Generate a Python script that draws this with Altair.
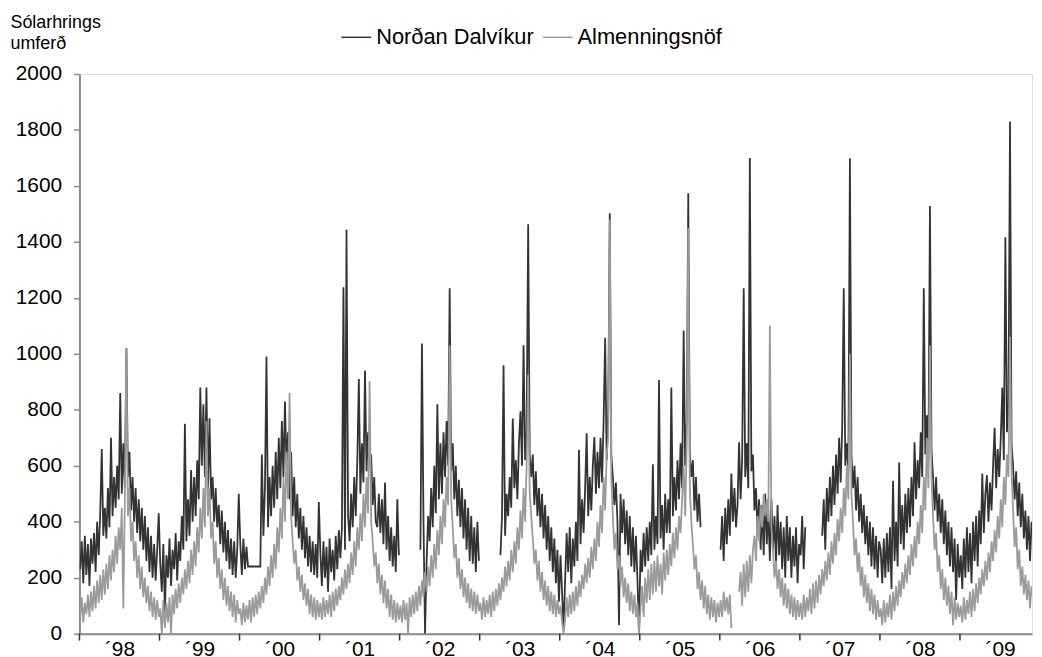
import altair as alt
import pandas as pd

YEARS = list(range(1998, 2010))
SERIES = ["Norðan Dalvíkur", "Almenningsnöf"]
COLORS = ["#333333", "#9b9b9b"]
Y_TICKS = list(range(0, 2001, 200))
X_LABEL_POS = [y + 0.5 for y in YEARS]
N = None

# weekly readings (52 per year), Norðan Dalvíkur
nd_1998 = [230, 330, 180, 350, 210, 320, 170, 340, 250, 360, 220, 400, 280, 430, 660, 350, 450, 340, 520, 380, 700, 420, 560, 450, 600, 480, 860, 500, 680, 520, 1020, 560, 650, 440, 560, 400, 520, 360, 480, 330, 450, 300, 420, 260, 380, 220, 350, 200, 320, 190, 300, 430]
nd_1999 = [250, 150, 320, 80, 280, 200, 340, 170, 300, 230, 360, 190, 330, 260, 420, 300, 750, 330, 480, 350, 585, 400, 560, 420, 620, 480, 880, 600, 820, 560, 880, 520, 770, 480, 560, 400, 520, 380, 460, 320, 440, 290, 400, 260, 370, 230, 340, 210, 330, 200, 300, 500]
nd_2000 = [320, 210, 340, 230, 310, 240, 240, 240, 240, 240, 240, 240, 240, 240, 640, 350, 520, 990, 380, 560, 420, 600, 450, 650, 480, 700, 520, 760, 560, 830, 600, 720, 480, 650, 420, 560, 380, 500, 340, 450, 300, 420, 270, 380, 240, 350, 220, 330, 210, 320, 200, 470]
nd_2001 = [290, 170, 330, 200, 310, 150, 340, 220, 300, 190, 350, 230, 370, 270, 380, 1238, 300, 1443, 420, 330, 500, 380, 560, 420, 620, 910, 500, 680, 540, 940, 580, 720, 600, 640, 460, 560, 400, 380, 500, 360, 480, 320, 540, 300, 420, 260, 380, 240, 350, 220, 480, 280]
nd_2002 = [N, N, N, N, N, N, N, N, N, N, N, N, N, 300, 1037, 400, 0, 250, 420, 330, 520, 380, 600, 430, 820, 480, 680, 500, 720, 560, 760, 600, 1234, 580, 680, 480, 600, 420, 550, 380, 520, 340, 480, 300, 450, 260, 420, 250, 380, 220, 400, 260]
nd_2003 = [N, N, N, N, N, N, N, N, N, N, N, N, N, 280, 420, 959, 350, 500, 420, 560, 450, 769, 520, 620, 480, 680, 795, 600, 1031, 620, 720, 1463, 640, 560, 640, 460, 580, 420, 520, 380, 500, 340, 460, 300, 420, 260, 380, 220, 340, 180, 300, 114]
nd_2004 = [280, 150, 20, 190, 360, 220, 380, 180, 340, 240, 400, 260, 657, 320, 480, 360, 520, 716, 420, 560, 440, 600, 703, 500, 650, 520, 700, 540, 760, 1057, 620, 800, 1502, 640, 560, 460, 540, 400, 30, 500, 360, 480, 320, 440, 280, 420, 240, 380, 220, 350, 190, 0]
nd_2005 = [300, 220, 360, 240, 380, 260, 400, 280, 605, 300, 420, 320, 906, 340, 460, 300, 500, 360, 480, 360, 880, 420, 560, 440, 620, 480, 680, 520, 1083, 600, 760, 1574, 640, 560, 620, 440, 560, 400, 500, 380, N, N, N, N, N, N, N, N, N, N, N, N]
nd_2006 = [300, 420, 260, 450, 320, 480, 350, 572, 400, 520, 380, 460, 684, 480, 620, 1234, 560, 680, 520, 1700, 580, 640, 440, 520, 360, 480, 300, 460, 280, 500, 320, 440, 260, 480, 300, 420, 250, 460, 280, 400, 230, 380, 200, 420, 260, 380, 200, 350, 240, 380, 180, 320]
nd_2007 = [280, 420, 230, 380, N, N, N, N, N, N, N, N, N, N, 350, 480, 300, 520, 400, 560, 420, 600, 460, 640, 500, 700, 540, 740, 1234, 600, 680, 580, 1699, 640, 520, 600, 440, 560, 400, 500, 360, 460, 320, 420, 280, 400, 240, 380, 230, 350, 200, 330]
nd_2008 = [300, 180, 340, 200, 360, 220, 380, 160, 546, 260, 400, 240, 612, 320, 460, 300, 500, 360, 520, 380, 560, 420, 684, 480, 620, 520, 720, 560, 1234, 640, 780, 620, 1528, 660, 560, 440, 560, 400, 500, 360, 480, 320, 440, 280, 400, 240, 380, 220, 340, 120, 320, 200]
nd_2009 = [280, 160, 340, 200, 380, 220, 360, 180, 400, 260, 420, 240, 440, 320, 572, 360, 500, 566, 400, 540, 440, 600, 736, 520, 660, 560, 700, 880, 620, 1417, 720, 800, 1830, 680, 600, 480, 580, 420, 540, 380, 500, 340, 440, 300, 420, 260, 400, N, N, N, N, N]

# weekly readings (52 per year), Almenningsnöf
al_1998 = [60, 130, 40, 110, 70, 140, 60, 150, 80, 170, 90, 190, 110, 210, 120, 230, 140, 250, 160, 280, 190, 300, 220, 350, 250, 380, 300, 450, 90, 480, 1020, 420, 520, 330, 400, 260, 330, 200, 280, 160, 240, 130, 200, 110, 170, 80, 150, 60, 130, 50, 120, 60]
al_1999 = [90, 0, 120, 20, 110, 40, 130, 0, 140, 70, 160, 90, 180, 110, 200, 140, 230, 160, 260, 180, 300, 210, 330, 240, 380, 290, 450, 340, 520, 380, 760, 420, 520, 340, 400, 250, 330, 200, 270, 160, 230, 120, 200, 100, 170, 80, 150, 60, 140, 40, 120, 70]
al_2000 = [90, 30, 110, 40, 100, 50, 120, 40, 130, 60, 140, 70, 150, 90, 170, 110, 200, 140, 240, 170, 280, 200, 320, 230, 380, 290, 450, 340, 560, 400, 650, 480, 860, 420, 330, 250, 300, 190, 240, 150, 210, 120, 180, 100, 160, 70, 140, 60, 130, 50, 120, 60]
al_2001 = [110, 50, 130, 60, 120, 70, 140, 60, 150, 80, 160, 100, 170, 120, 200, 140, 230, 160, 250, 180, 290, 210, 330, 240, 380, 300, 430, 330, 500, 380, 560, 430, 902, 400, 330, 240, 290, 180, 250, 140, 210, 110, 190, 90, 160, 60, 140, 50, 120, 40, 110, 50]
al_2002 = [100, 40, 120, 50, 110, 0, 130, 60, 140, 70, 150, 80, 170, 100, 190, 130, 220, 150, 240, 170, 280, 200, 320, 230, 370, 280, 420, 320, 480, 380, 560, 460, 1030, 480, 380, 270, 320, 200, 270, 160, 230, 130, 200, 110, 180, 90, 160, 80, 150, 70, 140, 80]
al_2003 = [110, 50, 130, 60, 120, 70, 140, 60, 150, 80, 160, 100, 180, 120, 200, 150, 240, 170, 260, 190, 300, 220, 330, 250, 380, 300, 440, 340, 520, 400, 600, 926, 500, 420, 340, 250, 300, 190, 260, 150, 220, 120, 190, 100, 170, 80, 150, 70, 140, 60, 120, 70]
al_2004 = [100, 40, 0, 50, 130, 60, 140, 70, 150, 80, 170, 100, 190, 130, 210, 160, 250, 180, 270, 200, 310, 230, 340, 260, 400, 310, 460, 360, 560, 440, 640, 700, 1480, 560, 420, 300, 360, 230, 280, 170, 240, 130, 200, 110, 180, 80, 150, 70, 140, 60, 110, 0]
al_2005 = [90, 170, 60, 200, 110, 230, 120, 250, 140, 260, 150, 280, 170, 250, 140, 290, 190, 300, 210, 320, 240, 360, 270, 380, 300, 420, 360, 480, 600, 420, 680, 1450, 520, 400, 320, 230, 280, 160, 220, 120, 190, 90, 170, 70, 140, 50, 130, 60, 120, 40, 110, 60]
al_2006 = [120, 60, 150, 80, 130, 70, 140, 20, N, N, N, N, 150, 220, 100, 250, 130, 260, 150, 280, 180, 300, 350, 260, 420, 330, 460, 380, 500, 420, 480, 400, 1100, 380, 300, 200, 260, 160, 230, 130, 200, 100, 180, 90, 160, 70, 140, 60, 130, 50, 120, 60]
al_2007 = [110, 50, 140, 60, 130, 80, 160, 70, 180, 90, 190, 110, 210, 140, 230, 170, 260, 190, 290, 210, 330, 250, 360, 280, 410, 330, 450, 360, 520, 420, 600, 480, 1000, 500, 400, 280, 340, 220, 290, 170, 240, 130, 210, 110, 180, 80, 160, 70, 140, 50, 120, 60]
al_2008 = [90, 30, 120, 40, 110, 60, 140, 50, 150, 80, 170, 100, 190, 130, 220, 160, 250, 180, 280, 210, 320, 240, 350, 270, 400, 320, 460, 360, 560, 440, 700, 520, 1030, 560, 420, 300, 360, 220, 280, 160, 230, 120, 200, 100, 170, 70, 150, 30, 130, 50, 110, 60]
al_2009 = [100, 40, 130, 50, 120, 70, 150, 60, 160, 80, 180, 110, 200, 140, 230, 170, 260, 190, 290, 220, 330, 260, 370, 290, 420, 340, 480, 380, 560, 460, 640, 560, 1060, 580, 440, 310, 380, 230, 300, 170, 240, 140, 210, 120, 190, 90, 170, N, N, N, N, N]

ND = [nd_1998, nd_1999, nd_2000, nd_2001, nd_2002, nd_2003, nd_2004, nd_2005, nd_2006, nd_2007, nd_2008, nd_2009]
AL = [al_1998, al_1999, al_2000, al_2001, al_2002, al_2003, al_2004, al_2005, al_2006, al_2007, al_2008, al_2009]

rows = []
for name, table in ((SERIES[0], ND), (SERIES[1], AL)):
    for yr, vals in zip(YEARS, table):
        for i, v in enumerate(vals):
            rows.append({"t": yr + (i + 0.5) / len(vals), "v": v, "s": name})
df = pd.DataFrame(rows)
ticks_df = pd.DataFrame({"t": YEARS})

FONT = "Liberation Sans"
H = 564

x_enc = alt.X(
    "t:Q",
    scale=alt.Scale(domain=[1998, 2009.9], nice=False, zero=False),
    axis=alt.Axis(
        values=X_LABEL_POS,
        labelExpr="'´' + slice(toString(floor(datum.value)), 2)",
        tickSize=0, grid=False, title=None,
        domainColor="#8a8a8a", domainWidth=2,
        labelFontSize=21, labelPadding=5, labelColor="#000000",
        labelFlush=False, labelFont=FONT,
    ),
)
y_enc = alt.Y(
    "v:Q",
    scale=alt.Scale(domain=[0, 2000], nice=False),
    axis=alt.Axis(
        values=Y_TICKS, grid=False, format="d",
        title=["Sólarhrings", "umferð"], titleAngle=0, titleAlign="left",
        titleBaseline="top", titleX=-70, titleY=-61, titleFontSize=18,
        titleFontWeight="normal", titleLineHeight=21, titleFont=FONT,
        titleColor="#000000",
        tickSize=6, tickColor="#8a8a8a", tickWidth=1.5,
        labelPadding=12, labelFontSize=21, labelColor="#000000", labelFont=FONT,
        domainColor="#8a8a8a", domainWidth=2,
    ),
)
color_enc = alt.Color(
    "s:N",
    scale=alt.Scale(domain=SERIES, range=COLORS),
    legend=alt.Legend(
        title=None, orient="none", legendX=263, legendY=-53,
        direction="horizontal", symbolType="stroke", symbolSize=900,
        symbolStrokeWidth=1.5, labelFontSize=22, labelFont=FONT,
        labelColor="#000000", columnPadding=6, labelOffset=4, padding=0,
    ),
)

dark = alt.Chart(df).transform_filter(alt.datum.s == SERIES[0]).mark_line(
    strokeWidth=1.8, invalid="break-paths-show-domains", clip=True
).encode(x=x_enc, y=y_enc, color=color_enc)

gray = alt.Chart(df).transform_filter(alt.datum.s == SERIES[1]).mark_line(
    strokeWidth=1.8, invalid="break-paths-show-domains", clip=True
).encode(x="t:Q", y="v:Q", color=alt.Color("s:N"))

tick_marks = alt.Chart(ticks_df).mark_rule(color="#333333", strokeWidth=1.5).encode(
    x="t:Q", y=alt.value(H), y2=alt.value(H + 7)
)

chart = alt.layer(dark, gray, tick_marks).properties(
    width=960, height=H,
    padding={"left": 72, "top": 64, "right": 2, "bottom": 20},
    autosize="none",
).configure_view(stroke=None).configure(font=FONT)

chart.save("out.html", embed_options={"renderer": "svg", "actions": False})
